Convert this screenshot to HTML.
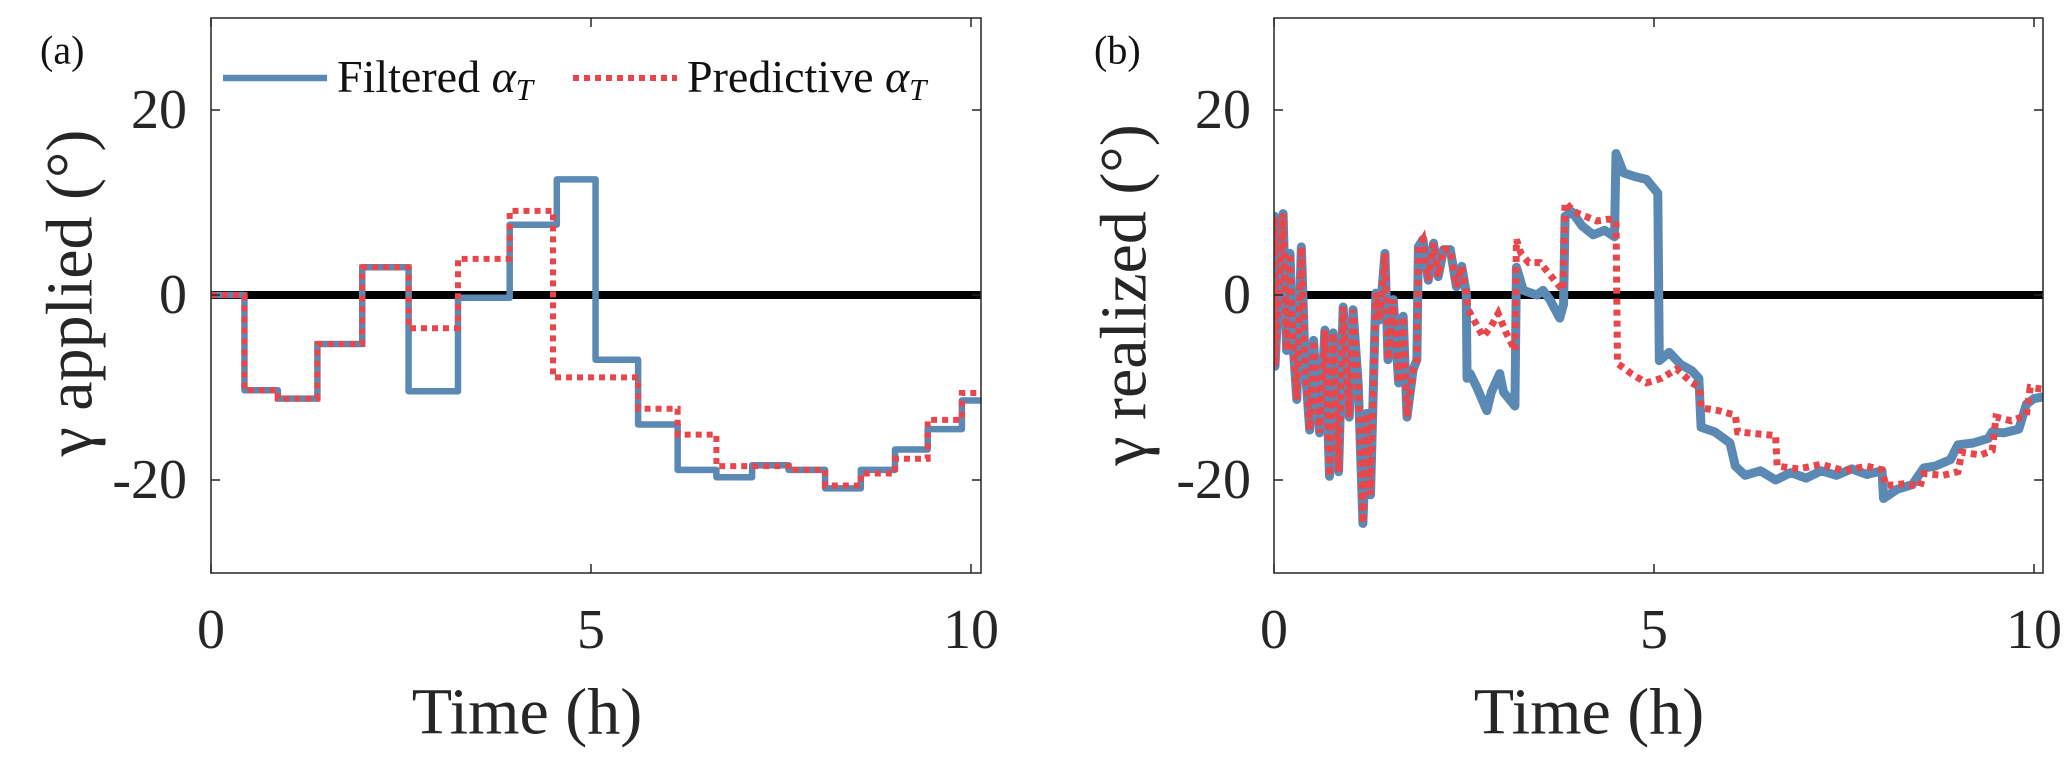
<!DOCTYPE html>
<html><head><meta charset="utf-8">
<style>
html,body{margin:0;padding:0;background:#fff;}
svg{display:block;font-family:"Liberation Serif",serif;}
</style></head>
<body>
<svg id="fig" width="2067" height="765" viewBox="0 0 2067 765" xmlns="http://www.w3.org/2000/svg"></svg>
<script>
// ---- data: panel (a) applied steps (edge times and values per step) ----
const aEdgesBlue = [0,0.44,0.88,1.40,1.99,2.60,3.25,3.93,4.55,5.06,5.62,6.14,6.65,7.12,7.60,8.08,8.55,9.00,9.43,9.88,10.13];
const aValsBlue  = [0,-10.3,-11.2,-5.3,3.0,-10.4,-0.3,7.6,12.5,-7.0,-14.0,-18.9,-19.7,-18.4,-18.9,-20.9,-18.9,-16.7,-14.5,-11.4];
const aEdgesRed  = [0,0.44,0.88,1.40,1.99,2.60,3.25,3.93,4.50,5.62,6.14,6.65,7.60,8.08,8.55,9.00,9.43,9.88,10.13];
const aValsRed   = [0,-10.3,-11.2,-5.3,3.0,-3.6,3.9,9.1,-8.9,-12.3,-15.1,-18.5,-18.9,-20.6,-19.3,-17.7,-13.5,-10.6];
// ---- data: panel (b) realized ----
const bTimeShared = [0,0.01,0.013,0.057,0.12,0.166,0.21,0.25,0.30,0.36,0.41,0.47,0.52,0.60,0.67,0.73,0.78,0.85,0.91,0.99,1.04,1.11,1.17,1.22,1.27,1.34,1.39,1.46,1.50,1.57,1.64,1.70,1.75,1.83,1.88,1.90,1.96,2.03,2.10,2.16,2.23,2.32,2.40,2.47,2.53];
const bValsShared = [5,8.5,-7.7,-0.5,8.8,-6.0,4.5,-5.2,-11.3,5.2,-7.7,-14.6,-4.9,-14.9,-3.8,-19.6,-4.1,-19.1,-1.3,-13.2,-1.6,-9.9,-24.7,-12.8,-21.6,0.2,-2.7,4.5,-7.0,-0.5,-9.5,-2.3,-13.2,-8.1,-7.0,5.2,6.0,1.6,5.6,2.0,4.9,4.9,0.9,3.1,0.2];
const bTimeBlue = [2.54,2.58,2.67,2.80,2.86,2.97,3.02,3.17,3.19,3.28,3.46,3.54,3.63,3.76,3.81,3.83,3.92,4.05,4.2,4.35,4.48,4.50,4.6,4.75,4.9,5.05,5.07,5.2,5.35,5.5,5.59,5.62,5.8,6.0,6.07,6.2,6.4,6.6,6.8,7.0,7.2,7.4,7.6,7.8,8.0,8.02,8.2,8.4,8.55,8.7,8.9,9.0,9.2,9.4,9.45,9.6,9.8,9.9,10.0,10.13];
const bValsBlue = [-9,-8.5,-10,-12.5,-10.5,-8.5,-10.5,-12,3.0,0.5,0,0.5,-0.5,-2.5,-1.0,8.5,9,7.5,6.5,7,6.3,15.3,13.2,12.8,12.5,11,-7.1,-6.2,-7.5,-8.2,-9,-14.3,-14.8,-16,-18.5,-19.5,-19,-20,-19.2,-19.8,-19,-19.5,-18.8,-19.4,-19,-22,-21,-20.5,-18.7,-18.5,-17.8,-16.2,-16,-15.5,-14.8,-14.9,-14.5,-11.8,-11.2,-11];
const bTimeRed = [2.55,2.65,2.75,2.85,2.95,3.05,3.17,3.19,3.25,3.35,3.5,3.6,3.7,3.8,3.83,3.95,4.1,4.25,4.4,4.5,4.52,4.7,4.9,5.1,5.3,5.5,5.6,5.62,5.85,6.07,6.1,6.35,6.6,6.62,6.9,7.2,7.5,7.8,8.0,8.05,8.3,8.5,8.55,8.8,9.0,9.05,9.3,9.45,9.5,9.7,9.9,9.95,10.13];
const bValsRed = [-1.5,-3.0,-4.5,-3.5,-2,-4,-6,6,4.5,3.5,3.5,2.5,1.5,0.5,10,9,8.5,8,8.2,8,-7.4,-8.5,-9.5,-9,-8,-9.5,-10,-12.2,-12.5,-13,-14.8,-15,-15.2,-18.5,-18.8,-18.3,-19,-18.5,-18.9,-20.6,-20.4,-20.7,-19.3,-19.5,-19.1,-17,-17.3,-16.8,-13.2,-13.6,-13.0,-10,-10.2];
const xTicks = [0,5,10];
const yTicks = [20,0,-20];
const xTickLabels = ["0","5","10"];
const yTickLabels = ["20","0","-20"];

const NS="http://www.w3.org/2000/svg";
const svg=document.getElementById('fig');
function mk(tag,attrs,parent){const e=document.createElementNS(NS,tag);for(const k in attrs)e.setAttribute(k,attrs[k]);(parent||svg).appendChild(e);return e;}

const BLUE="#5a89b4", RED="#e9464c", AX="#262626";
const panels=[
 {id:'a', left:211, right:981, label:'(a)', lx:40, ylab:'γ applied (°)', ylx:70, ycen:293, xlabx:527, ytx:187},
 {id:'b', left:1274, right:2043, label:'(b)', lx:1094, ylab:'γ realized (°)', ylx:1124, ycen:295, xlabx:1589, ytx:1251}
];
const axTop=18, axBottom=573, y0=295, ppu=9.25, pph=76;

panels.forEach(p=>{
  const xs=t=>p.left+t*pph;
  const ys=v=>y0-v*ppu;
  const g=mk('g',{});
  
  
  const clipId='clip'+p.id;
  const cp=mk('clipPath',{id:clipId},g);
  mk('rect',{x:p.left,y:axTop,width:p.right-p.left,height:axBottom-axTop},cp);
  const plot=mk('g',{'clip-path':'url(#'+clipId+')'},g);
  
  

  function stepPath(edges,vals){
    let d='M'+xs(edges[0])+','+ys(vals[0]);
    for(let i=0;i<vals.length;i++){
      d+=' L'+xs(edges[i+1])+','+ys(vals[i]);
      if(i+1<vals.length) d+=' L'+xs(edges[i+1])+','+ys(vals[i+1]);
    }
    return d;
  }
  function linePath(ts,vs){return ts.map((t,i)=>(i?'L':'M')+xs(t)+','+ys(vs[i])).join(' ');}

  let dBlue,dRed;
  if(p.id==='a'){
    dBlue=stepPath(aEdgesBlue,aValsBlue);
    dRed=stepPath(aEdgesRed,aValsRed);
  } else {
    dBlue=linePath(bTimeShared.concat(bTimeBlue),bValsShared.concat(bValsBlue));
    dRed=linePath(bTimeShared.concat(bTimeRed),bValsShared.concat(bValsRed));
  }
  const zl=mk('line',{x1:p.left,x2:p.right,y1:ys(0),y2:ys(0),stroke:'#000','stroke-width':8},plot);
  
  
  const bl=mk('path',{d:dBlue,fill:'none',stroke:BLUE,'stroke-width':p.id==='a'?6.5:9,'stroke-linejoin':'round'},plot);
  
  
  const rl=mk('path',{d:dRed,fill:'none',stroke:RED,'stroke-width':p.id==='a'?6:7,'stroke-dasharray':'6 5'},plot);
  
  

  const box=mk('rect',{x:p.left,y:axTop,width:p.right-p.left,height:axBottom-axTop,fill:'none',stroke:AX,'stroke-width':1.5},g);
  
  
  xTicks.forEach((t,i)=>{
    const x=xs(t);
    mk('line',{x1:x,x2:x,y1:axBottom,y2:axBottom-9,stroke:AX,'stroke-width':1.5},g);
    mk('line',{x1:x,x2:x,y1:axTop,y2:axTop+9,stroke:AX,'stroke-width':1.5},g);
    const tx=mk('text',{x:x,y:630,'font-size':56,'text-anchor':'middle','dominant-baseline':'central',fill:AX},g);
    tx.textContent=xTickLabels[i];
    
    
  });
  yTicks.forEach((v,i)=>{
    const y=ys(v);
    mk('line',{x1:p.left,x2:p.left+9,y1:y,y2:y,stroke:AX,'stroke-width':1.5},g);
    mk('line',{x1:p.right,x2:p.right-9,y1:y,y2:y,stroke:AX,'stroke-width':1.5},g);
    const tx=mk('text',{x:p.ytx,y:y,'font-size':56,'text-anchor':'end','dominant-baseline':'central',fill:AX},g);
    tx.textContent=yTickLabels[i];
    
    
  });
  const xl=mk('text',{x:p.xlabx,y:712,'font-size':66,'text-anchor':'middle','dominant-baseline':'central',fill:AX},g);
  xl.textContent='Time (h)';
  
  
  const yl=mk('text',{x:p.ylx,y:p.ycen,'font-size':66,'text-anchor':'middle','dominant-baseline':'central',fill:AX,transform:'rotate(-90 '+p.ylx+' '+p.ycen+')'},g);
  yl.textContent=p.ylab;
  
  
  const pl=mk('text',{x:p.lx,y:50,'font-size':40,'dominant-baseline':'central',fill:'#111'},g);
  pl.textContent=p.label;
  
  
});

// legend
const lg=mk('g',{});


const l1=mk('line',{x1:223,x2:327,y1:78,y2:78,stroke:BLUE,'stroke-width':6.5},lg);


const t1=mk('text',{x:337,y:92,'font-size':46,fill:'#111'},lg);
t1.innerHTML='Filtered <tspan font-style="italic">α</tspan><tspan font-style="italic" font-size="31" dy="8">T</tspan>';


const l2=mk('line',{x1:573,x2:677,y1:78,y2:78,stroke:RED,'stroke-width':6,'stroke-dasharray':'6 5'},lg);


const t2=mk('text',{x:687,y:92,'font-size':46,fill:'#111'},lg);
t2.innerHTML='Predictive <tspan font-style="italic">α</tspan><tspan font-style="italic" font-size="31" dy="8">T</tspan>';


</script>
</body></html>
